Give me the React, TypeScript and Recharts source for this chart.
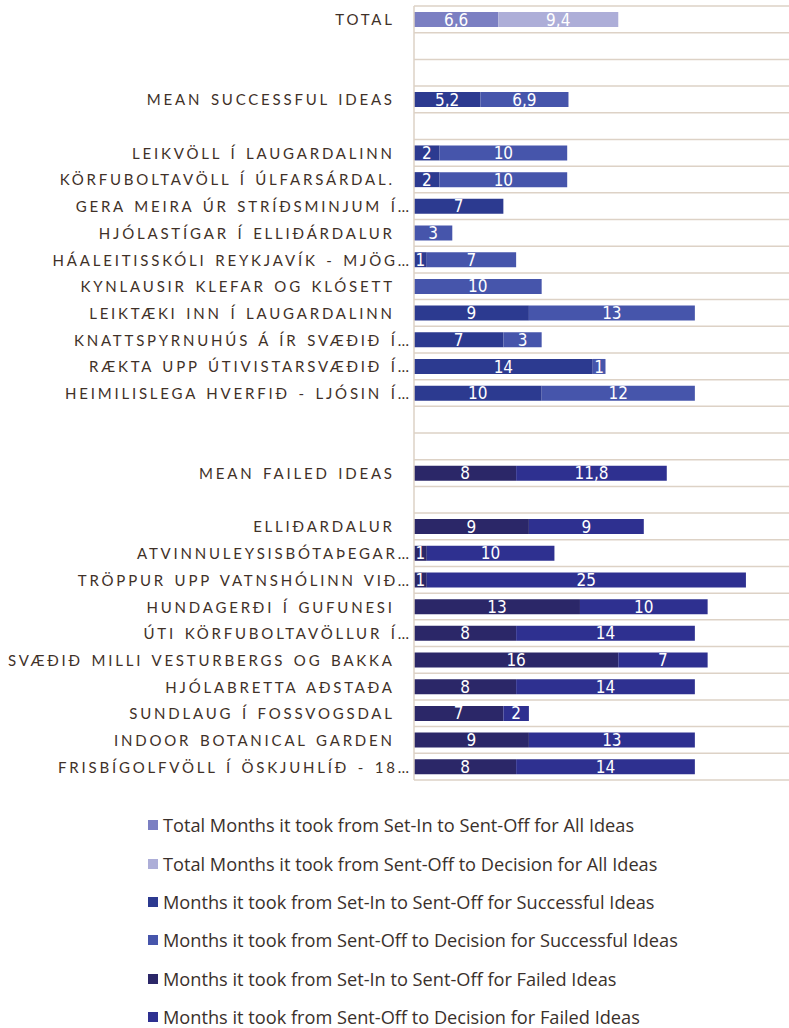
import { BarChart, Bar, XAxis, YAxis, CartesianGrid, Legend, LabelList } from 'recharts'

const TOTAL_VALUES = [6.6, 9.4]
const MEAN_SUCCESS_VALUES = [5.2, 6.9]
const MEAN_FAILED_VALUES = [8, 11.8]

const SUCCESS_IDEAS = [
  'LEIKVÖLL Í LAUGARDALINN',
  'KÖRFUBOLTAVÖLL Í ÚLFARSÁRDAL.',
  'GERA MEIRA ÚR STRÍÐSMINJUM Í…',
  'HJÓLASTÍGAR Í ELLIÐÁRDALUR',
  'HÁALEITISSKÓLI REYKJAVÍK - MJÖG…',
  'KYNLAUSIR KLEFAR OG KLÓSETT',
  'LEIKTÆKI INN Í LAUGARDALINN',
  'KNATTSPYRNUHÚS Á ÍR SVÆÐIÐ Í…',
  'RÆKTA UPP ÚTIVISTARSVÆÐIÐ Í…',
  'HEIMILISLEGA HVERFIÐ - LJÓSIN Í…',
]
const SUCCESS_SET_IN = [2, 2, 7, 0, 1, 0, 9, 7, 14, 10]
const SUCCESS_SENT_OFF = [10, 10, 0, 3, 7, 10, 13, 3, 1, 12]

const FAILED_IDEAS = [
  'ELLIÐARDALUR',
  'ATVINNULEYSISBÓTAÞEGAR…',
  'TRÖPPUR UPP VATNSHÓLINN VIÐ…',
  'HUNDAGERÐI Í GUFUNESI',
  'ÚTI KÖRFUBOLTAVÖLLUR Í…',
  'SVÆÐIÐ MILLI VESTURBERGS OG BAKKA',
  'HJÓLABRETTA AÐSTAÐA',
  'SUNDLAUG Í FOSSVOGSDAL',
  'INDOOR BOTANICAL GARDEN',
  'FRISBÍGOLFVÖLL Í ÖSKJUHLÍÐ - 18…',
]
const FAILED_SET_IN = [9, 1, 1, 13, 8, 16, 8, 7, 9, 8]
const FAILED_SENT_OFF = [9, 10, 25, 10, 14, 7, 14, 2, 13, 14]

const SERIES = [
  { key: 'tIn', name: 'Total Months it took from Set-In to Sent-Off for All Ideas', color: '#7b7fc2' },
  { key: 'tOff', name: 'Total Months it took from Sent-Off to Decision for All Ideas', color: '#adaed8' },
  { key: 'sIn', name: 'Months it took from Set-In to Sent-Off for Successful Ideas', color: '#2c3a90' },
  { key: 'sOff', name: 'Months it took from Sent-Off to Decision for Successful Ideas', color: '#4655ab' },
  { key: 'fIn', name: 'Months it took from Set-In to Sent-Off for Failed Ideas', color: '#2b2768' },
  { key: 'fOff', name: 'Months it took from Sent-Off to Decision for Failed Ideas', color: '#2e3090' },
]

type Row = { name: string; [k: string]: string | number | null }

let gapCount = 0
const gap = (): Row => ({ name: `gap-${gapCount++}` })

const data: Row[] = [
  { name: 'TOTAL', tIn: TOTAL_VALUES[0], tOff: TOTAL_VALUES[1] },
  gap(),
  gap(),
  { name: 'MEAN SUCCESSFUL IDEAS', sIn: MEAN_SUCCESS_VALUES[0], sOff: MEAN_SUCCESS_VALUES[1] },
  gap(),
  ...SUCCESS_IDEAS.map((name, i) => ({ name, sIn: SUCCESS_SET_IN[i], sOff: SUCCESS_SENT_OFF[i] })),
  gap(),
  gap(),
  { name: 'MEAN FAILED IDEAS', fIn: MEAN_FAILED_VALUES[0], fOff: MEAN_FAILED_VALUES[1] },
  gap(),
  ...FAILED_IDEAS.map((name, i) => ({ name, fIn: FAILED_SET_IN[i], fOff: FAILED_SENT_OFF[i] })),
]

const GRID = '#ddd2c6'
const LETTER_SPACING = 2.8

function CategoryTick(props: any) {
  const { x, y, payload } = props
  const label: string = payload.value
  if (label.startsWith('gap-')) return null
  const truncated = label.endsWith('…')
  const end = (truncated ? x - 5 : x - 22) + LETTER_SPACING
  return (
    <text
      x={end}
      y={y}
      textAnchor="end"
      dominantBaseline="central"
      fill="#3f3128"
      style={{ fontFamily: 'Lato, sans-serif', fontSize: 15, letterSpacing: LETTER_SPACING, wordSpacing: 2 }}
    >
      {label}
    </text>
  )
}

function LegendList() {
  return (
    <div style={{ height: 248, boxSizing: 'border-box', paddingTop: 26, paddingLeft: 148 }}>
      {SERIES.map((s) => (
        <div
          key={s.key}
          style={{ display: 'flex', alignItems: 'center', height: 38.4, fontFamily: "'Open Sans', sans-serif", fontSize: 18.2, color: '#3a302b', whiteSpace: 'nowrap' }}
        >
          <span style={{ display: 'inline-block', width: 10, height: 10, background: s.color, marginRight: 5 }} />
          <span>{s.name}</span>
        </div>
      ))}
    </div>
  )
}

const formatValue = (v: any) => (v == null ? '' : String(v).replace('.', ','))

export default function App() {
  return (
    <div style={{ position: 'absolute', left: 0, top: 0, width: 789, height: 1028, overflow: 'hidden', background: '#fff' }}>
      <BarChart
        width={797}
        height={1028}
        data={data}
        layout="vertical"
        margin={{ top: 6, right: 0, bottom: 0, left: 0 }}
        barCategoryGap={0}
      >
        <CartesianGrid
          vertical={false}
          stroke={GRID}
          strokeWidth={1.5}
          horizontalCoordinatesGenerator={({ offset }: any) =>
            Array.from({ length: data.length + 1 }, (_, i) => offset.top + (i * offset.height) / data.length)
          }
        />
        <XAxis type="number" domain={[0, 30]} hide />
        <YAxis
          type="category"
          dataKey="name"
          width={414}
          axisLine={{ stroke: GRID, strokeWidth: 1.5 }}
          tickLine={false}
          tickSize={0}
          tickMargin={0}
          interval={0}
          tick={<CategoryTick />}
        />
        <Legend verticalAlign="bottom" align="left" content={() => <LegendList />} />
        {SERIES.map((s) => (
          <Bar key={s.key} dataKey={s.key} name={s.name} stackId="a" fill={s.color} barSize={15} isAnimationActive={false}>
            <LabelList
              dataKey={s.key}
              position="center"
              formatter={formatValue}
              fill="#ffffff"
              style={{ fontFamily: "'Liberation Sans Narrow', 'DejaVu Sans Condensed', sans-serif", fontSize: 17 }}
            />
          </Bar>
        ))}
      </BarChart>
    </div>
  )
}
